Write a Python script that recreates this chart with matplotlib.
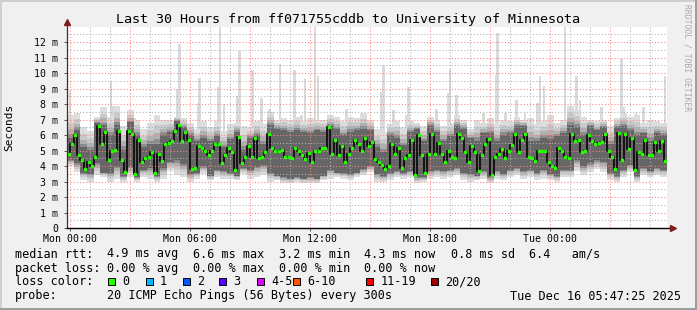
import numpy as np
import matplotlib
matplotlib.use("Agg")
import matplotlib.pyplot as plt
from matplotlib.patches import Rectangle

# ---------------- data ----------------
TITLE = "Last 30 Hours from ff071755cddb to University of Minnesota"
START_H = -0.165          # hours relative to Mon 00:00 at left edge
SPAN_H = 30.0

# median rtt (ms), 10-minute bins
median_ms = [
    4.8, 5.4, 6.0, 4.7, 4.4, 3.8, 4.3, 4.0, 4.6, 6.6, 5.45, 6.2, 4.4, 5.0, 5.05, 6.25, 4.4, 3.65, 6.3, 6.1,
    3.5, 5.7, 4.3, 4.5, 4.6, 4.9, 3.55, 4.8, 4.35, 5.45,
    5.5, 5.6, 6.3, 6.65, 5.6, 6.2, 5.7, 3.8, 3.9, 5.3, 5.2, 5.0, 4.7, 5.0, 5.4, 5.4, 4.2, 4.7, 5.2, 4.9,
    3.75, 5.9, 4.2, 4.6, 5.3, 4.6, 5.8, 4.5, 4.6, 4.9,
    6.05, 5.2, 4.97, 5.0, 5.05, 4.6, 4.6, 4.55, 5.15, 4.95, 4.7, 4.45, 4.85, 4.25, 4.95, 4.97, 5.2, 5.2, 6.5, 4.8,
    5.7, 4.7, 5.3, 4.25, 4.8, 5.2, 5.7, 5.4, 5.0, 5.85,
    5.3, 5.55, 4.45, 4.25, 4.05, 3.85, 4.0, 5.45, 4.8, 5.2, 3.9, 4.5, 4.7, 5.7, 3.4, 6.0, 4.7, 3.55, 4.8, 6.1,
    4.8, 5.5, 4.8, 4.25, 5.0, 4.6, 4.55, 6.1, 5.8, 4.9,
    4.3, 5.3, 4.9, 3.7, 4.7, 5.45, 5.75, 3.4, 4.6, 4.8, 5.1, 4.55, 5.0, 5.35, 6.05, 4.9, 5.7, 6.1, 4.6, 4.55,
    4.35, 5.0, 5.0, 5.0, 4.3, 4.0, 3.9, 5.2, 5.0, 4.6,
    4.5, 6.1, 5.65, 5.7, 4.9, 5.0, 6.0, 5.6, 5.45, 5.5, 5.55, 6.1, 5.0, 4.6, 3.8, 6.15, 4.4, 6.1, 5.1, 5.85,
    3.75, 4.9, 4.8, 5.7, 4.7, 4.7, 5.55, 5.0, 5.6, 4.35,
]

# smoke envelope (ms), 20-minute bins: outer min/max ping and dark core
smoke_hi = [
    7.3, 7.4, 6.5, 6.3, 7.2, 7.8, 7.2, 7.9, 6.6, 7.6, 7.0, 6.4, 6.8, 7.3, 7.0,
    7.0, 7.2, 7.1, 6.8, 6.4, 6.9, 6.5, 6.9, 6.3, 6.7, 6.8, 6.6, 6.5, 6.9, 6.7,
    7.5, 7.0, 7.1, 7.0, 7.2, 6.9, 7.1, 7.0, 7.0, 7.3, 7.2, 6.9, 7.2, 7.1, 7.4,
    7.0, 6.4, 6.2, 6.7, 6.9, 6.5, 6.9, 6.8, 6.6, 7.2, 7.0, 6.6, 6.8, 7.3, 7.0,
    6.4, 7.0, 6.8, 7.1, 6.7, 7.0, 6.9, 7.2, 7.0, 7.1, 6.7, 6.9, 7.3, 6.8, 7.0,
    7.9, 7.6, 7.2, 7.0, 6.9, 7.0, 6.6, 7.1, 7.4, 7.2, 7.3, 6.8, 7.0, 6.9, 6.8,
]
smoke_lo = [
    4.0, 3.6, 3.1, 3.0, 3.4, 3.3, 3.0, 3.2, 3.0, 3.3, 3.0, 3.3, 3.2, 3.0, 3.2,
    3.7, 3.4, 3.3, 3.0, 3.2, 3.5, 3.1, 3.3, 3.2, 3.2, 3.1, 3.5, 3.2, 3.3, 3.4,
    3.0, 3.1, 2.9, 2.9, 3.0, 2.9, 2.9, 2.9, 3.1, 3.2, 3.3, 3.2, 3.1, 3.3, 3.4,
    3.6, 3.0, 3.0, 3.1, 3.3, 3.2, 3.3, 2.9, 3.0, 3.2, 3.3, 3.2, 3.3, 3.4, 3.1,
    3.0, 3.1, 3.2, 2.9, 3.2, 3.1, 3.3, 3.4, 3.2, 3.3, 3.1, 3.2, 3.1, 3.0, 3.3,
    3.3, 3.7, 3.4, 3.6, 3.8, 3.6, 3.1, 3.0, 3.3, 3.6, 3.0, 3.4, 3.3, 3.4, 3.3,
]
core_hi = [
    5.8, 6.3, 5.2, 5.0, 6.8, 6.6, 6.0, 6.6, 5.0, 6.8, 6.0, 5.2, 5.4, 5.4, 6.0,
    6.2, 6.9, 6.5, 6.0, 5.6, 5.8, 5.6, 5.9, 5.2, 5.7, 6.2, 5.0, 5.8, 6.0, 5.4,
    6.6, 6.4, 6.3, 6.2, 6.3, 6.2, 6.1, 6.3, 6.2, 6.6, 6.4, 6.0, 6.2, 6.3, 6.4,
    6.3, 5.2, 4.9, 6.0, 5.8, 5.3, 6.2, 6.4, 5.6, 6.6, 6.2, 5.6, 5.9, 6.6, 6.4,
    5.8, 5.6, 6.1, 6.1, 5.6, 6.0, 6.1, 6.6, 6.6, 5.6, 5.6, 5.8, 5.7, 5.9, 6.1,
    6.6, 6.5, 6.0, 6.6, 6.3, 6.5, 5.4, 6.5, 6.6, 6.3, 6.0, 6.1, 5.6, 6.1, 6.0,
]
core_lo = [
    4.4, 4.2, 3.6, 3.5, 4.2, 3.6, 3.6, 4.0, 3.4, 4.0, 3.3, 3.8, 3.9, 3.4, 3.9,
    4.3, 4.4, 4.2, 3.5, 3.6, 4.0, 3.4, 3.8, 3.7, 3.6, 3.4, 3.9, 3.8, 4.0, 4.1,
    3.6, 3.4, 3.3, 3.2, 3.3, 3.2, 3.3, 3.2, 3.4, 3.8, 3.6, 3.6, 3.5, 3.6, 3.8,
    4.0, 3.5, 3.4, 3.6, 3.7, 3.6, 3.7, 3.3, 3.3, 3.7, 3.8, 3.7, 3.8, 3.9, 3.6,
    3.5, 3.4, 3.7, 3.3, 3.7, 3.5, 3.8, 3.9, 3.7, 3.8, 3.6, 3.8, 3.5, 3.4, 3.8,
    3.8, 4.4, 4.0, 4.2, 4.4, 4.3, 3.6, 3.4, 3.8, 4.1, 3.4, 3.9, 3.7, 3.9, 3.8,
]

# isolated high pings (hours after Mon 00:00, ms)
spike_h = [-0.02, 0.32, 2.03, 2.12, 3.23, 4.32, 5.37, 5.45, 6.38, 6.45, 7.38, 7.48, 7.68, 8.37, 8.45,
           9.12, 9.55, 9.95, 10.48, 11.2, 11.57, 11.73, 12.23, 12.38, 13.82, 15.57, 15.65, 16.15,
           16.82, 16.9, 18.32, 18.9, 18.98, 19.32, 20.65, 21.32, 21.35, 21.77, 22.32, 22.73, 23.35,
           23.48, 23.68, 24.73, 24.95, 25.32, 25.48, 26.57, 27.57, 27.65, 28.28, 28.65, 29.73]
spike_ms = [8.9, 7.3, 9.4, 7.9, 7.1, 7.1, 9.0, 11.9, 8.1, 9.7, 9.1, 13.0, 8.0, 8.5, 11.45,
            10.2, 8.4, 7.7, 10.6, 10.2, 7.3, 9.6, 13.0, 9.8, 7.7, 8.8, 10.5, 7.6,
            7.3, 9.1, 7.7, 8.7, 10.3, 8.6, 7.4, 9.9, 12.6, 7.4, 8.3, 7.4, 8.1,
            9.8, 9.2, 13.0, 7.8, 9.8, 8.3, 7.8, 10.9, 7.8, 7.4, 7.8, 9.8]

xtick_h = [0, 6, 12, 18, 24]
xtick_labels = ["Mon 00:00", "Mon 06:00", "Mon 12:00", "Mon 18:00", "Tue 00:00"]
ytick_ms = list(range(0, 13))
ytick_labels = ["0"] + [f"{v} m" for v in range(1, 13)]

legend_rows = [
    ("median rtt:", [(107.3, "4.9 ms avg"), (193.3, "6.6 ms max"), (279.3, "3.2 ms min"),
                     (365.0, "4.3 ms now"), (451.7, "0.8 ms sd"), (530.0, "6.4   am/s")]),
    ("packet loss:", [(107.3, "0.00 % avg"), (193.3, "0.00 % max"), (279.3, "0.00 % min"),
                      (365.0, "0.00 % now")]),
]
loss_labels = ["0", "1", "2", "3", "4-5", "6-10", "11-19", "20/20"]
loss_colors = ["#26ff00", "#00b8ff", "#0059ff", "#5e00ff", "#dd00ff", "#ff5500", "#ff0000", "#a10000"]
probe_text = "20 ICMP Echo Pings (56 Bytes) every 300s"
stamp_text = "Tue Dec 16 05:47:25 2025"

# ---------------- figure ----------------
W, H = 697, 310
MONO = "DejaVu Sans Mono"
plt.rcParams["font.family"] = MONO

fig = plt.figure(figsize=(W / 100, H / 100), dpi=100)
fig.patch.set_facecolor("#f0f0f0")

def px(x, y):
    return x / W, 1 - y / H

x0, x1, ytop, ybot = 67, 667, 27, 228.2
ax = fig.add_axes([x0 / W, 1 - ybot / H, (x1 - x0) / W, (ybot - ytop) / H])
ax.set_facecolor("white")
YMAX = 12.98
ax.set_xlim(START_H, START_H + SPAN_H)
ax.set_ylim(0, YMAX)

med = np.array(median_ms)
n_med = len(med)
med_edges = START_H + np.arange(n_med + 1) * SPAN_H / n_med
med_centers = 0.5 * (med_edges[:-1] + med_edges[1:])

lo, hi = np.array(smoke_lo), np.array(smoke_hi)
clo, chi = np.array(core_lo), np.array(core_hi)
n_s = len(lo)
s_edges = START_H + np.arange(n_s + 1) * SPAN_H / n_s

# spikes (light smoke above band)
ax.bar(spike_h, np.array(spike_ms) - 4.0, bottom=4.0, width=0.13, color="#dadada",
       linewidth=0, zorder=1)

def ext(a):
    return np.r_[a, a[-1]]

fracs = [0.0, 0.35, 0.6, 0.82, 0.97]
shades = ["#dddddd", "#c9c9c9", "#b0b0b0", "#8c8c8c", "#666666"]
for f, c in zip(fracs, shades):
    l = lo + (clo - lo) * f
    u = hi + (chi - hi) * f
    ax.fill_between(s_edges, ext(l), ext(u), step="post", color=c, linewidth=0, zorder=2)

# grid on top of smoke
grid_kw = dict(linewidth=0.75, linestyle=(0, (1, 2)), zorder=3)
for h in np.arange(0, 30, 1):
    if h % 3 != 0:
        ax.axvline(h, color="#b0b0b0", **grid_kw)
for v in np.arange(0.5, YMAX, 1.0):
    ax.axhline(v, color="#b0b0b0", **grid_kw)
for h in np.arange(0, 30, 3):
    ax.axvline(h, color="#ff8080", **grid_kw)
for v in range(1, 13):
    ax.axhline(v, color="#ff8080", **grid_kw)

# median
ax.plot(med_centers, med, drawstyle="steps-mid", color="#141414", linewidth=1.4, zorder=4)
ax.plot(med_centers, med, linestyle="none", marker="s", markersize=1.9,
        markerfacecolor="#26ff00", markeredgecolor="#26ff00", zorder=5)

# axes & ticks
for s in ax.spines.values():
    s.set_visible(False)
ax.set_xticks(xtick_h)
ax.set_xticklabels(xtick_labels, fontsize=7.1)
ax.set_yticks(ytick_ms)
ax.set_yticklabels(ytick_labels, fontsize=7.1)
ax.tick_params(axis="x", length=2, width=0.7, pad=2.2, color="#555555")
ax.tick_params(axis="y", length=2, width=0.7, pad=4.5, color="#555555")

arrow_c = "#7f1f1f"
ax.plot([0, 0], [0, 1 + 5 / (ybot - ytop)], transform=ax.transAxes, color="#333333",
        linewidth=0.9, clip_on=False, zorder=6)
ax.plot([0, 1 + 6 / (x1 - x0)], [0, 0], transform=ax.transAxes, color="black",
        linewidth=1.0, clip_on=False, zorder=6)
ax.plot([0], [1 + 5 / (ybot - ytop)], transform=ax.transAxes, marker="^", markersize=4,
        color=arrow_c, clip_on=False, zorder=7)
ax.plot([1 + 6 / (x1 - x0)], [0], transform=ax.transAxes, marker=">", markersize=4,
        color=arrow_c, clip_on=False, zorder=7)

# texts
fig.text(*px(348.5, 19), TITLE, ha="center", va="center", fontsize=9.6, family=MONO)
fig.text(*px(9.5, 127.5), "Seconds", ha="center", va="center", rotation=90, fontsize=8.0,
         family=MONO)
fig.text(*px(687, 4), "RRDTOOL / TOBI OETIKER", ha="center", va="top", rotation=270,
         fontsize=5.8, color="#a8a8a8", family=MONO)

LFS = 8.5
row_y = [254.0, 268.3, 281.7, 296.0]
for (label, items), yy in zip(legend_rows, row_y[:2]):
    fig.text(*px(15.3, yy), label, ha="left", va="center", fontsize=LFS)
    for xx, t in items:
        fig.text(*px(xx - 0.7, yy), t, ha="left", va="center", fontsize=LFS)

fig.text(*px(15.3, row_y[2]), "loss color:", ha="left", va="center", fontsize=LFS)
box_x = [108.3, 145.7, 182.7, 219.3, 256.7, 293.3, 366.0, 431.0]
for bx, lab, col in zip(box_x, loss_labels, loss_colors):
    fig.add_artist(Rectangle((bx / W, 1 - 284.5 / H), 7 / W, 7 / H, transform=fig.transFigure,
                             facecolor=col, edgecolor="black", linewidth=0.7))
    fig.text(*px(bx + 14.2, row_y[2]), lab, ha="left", va="center", fontsize=LFS)

fig.text(*px(15.3, row_y[3]), "probe:", ha="left", va="center", fontsize=LFS)
fig.text(*px(106.6, row_y[3]), probe_text, ha="left", va="center", fontsize=LFS)
fig.text(*px(681, row_y[3]), stamp_text, ha="right", va="center", fontsize=LFS)

# 3D border
bw = 2
fig.add_artist(Rectangle((0, 0), bw / W, 1, transform=fig.transFigure, color="#cfcfcf", lw=0))
fig.add_artist(Rectangle((0, 1 - bw / H), 1, bw / H, transform=fig.transFigure, color="#cfcfcf", lw=0))
fig.add_artist(Rectangle((1 - bw / W, 0), bw / W, 1, transform=fig.transFigure, color="#9e9e9e", lw=0))
fig.add_artist(Rectangle((0, 0), 1, bw / H, transform=fig.transFigure, color="#9e9e9e", lw=0))

fig.savefig("out.png", dpi=100, facecolor=fig.get_facecolor())
